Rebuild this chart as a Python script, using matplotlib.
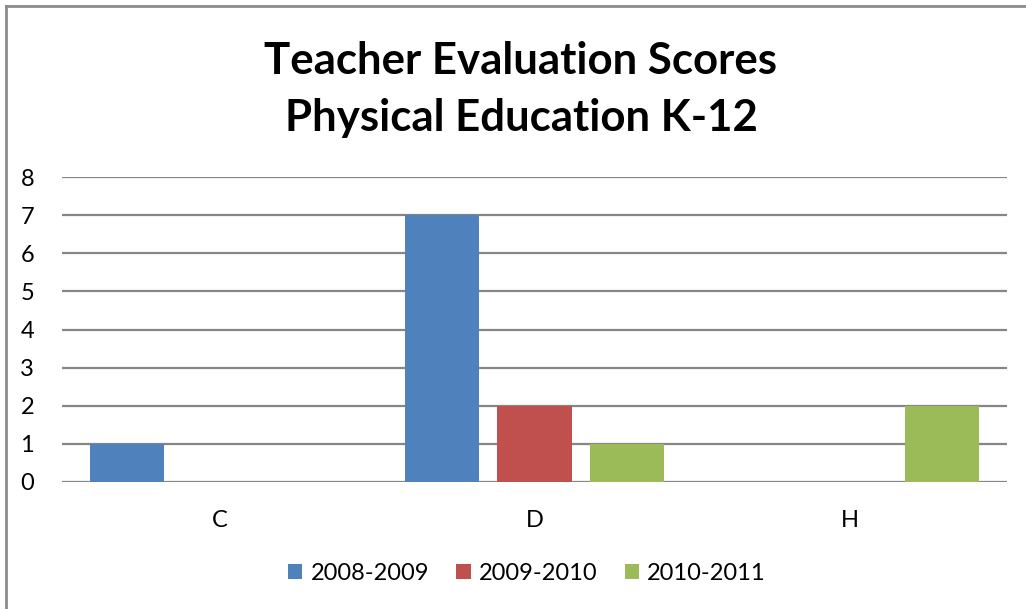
import matplotlib
matplotlib.use("Agg")
import matplotlib.pyplot as plt
import numpy as np
from matplotlib.lines import Line2D
from matplotlib.patches import Patch

categories = ["C", "D", "H"]
series_names = ["2008-2009", "2009-2010", "2010-2011"]
s2008 = [1, 7, 0]
s2009 = [0, 2, 0]
s2010 = [0, 1, 2]
colors = ["#4F81BD", "#C0504D", "#9BBB59"]
yticks = [0, 1, 2, 3, 4, 5, 6, 7, 8]

plt.rcParams['font.family'] = ['Lato', 'DejaVu Sans']

fig = plt.figure(figsize=(10.26, 6.09), dpi=100)
ax = fig.add_axes([62/1026, 1-482/609, (1007-62)/1026, (482-177)/609])

x = np.arange(len(categories))
bw = 0.235
step = 0.2937
for i, (vals, c) in enumerate(zip([s2008, s2009, s2010], colors)):
    ax.bar(x + (i - 1) * step, vals, width=bw, color=c, zorder=3, linewidth=0)

ax.set_xlim(-0.5, 2.5)
ax.set_ylim(0, 8)
ax.set_yticks(yticks)
ax.set_yticklabels([str(v) for v in yticks], fontsize=17)
ax.set_xticks(x)
ax.set_xticklabels(categories, fontsize=17)
ax.tick_params(axis='y', length=0, pad=20)
ax.tick_params(axis='x', length=0, pad=20)
ax.yaxis.grid(True, color="#868686", linewidth=1.6, zorder=0)
for s in ax.spines.values():
    s.set_visible(False)

fig.text(521/1026, 1-61/609, "Teacher Evaluation Scores", ha="center", va="center",
         fontsize=31.5, fontweight="bold")
fig.text(521/1026, 1-118/609, "Physical Education K-12", ha="center", va="center",
         fontsize=31.5, fontweight="bold")

handles = [Patch(facecolor=c, edgecolor='none') for c in colors]
fig.legend(handles, series_names, loc="center", bbox_to_anchor=(527/1026, 1-573/609),
           ncol=3, frameon=False, fontsize=17, handlelength=0.6, handleheight=0.6,
           handletextpad=0.35, columnspacing=1.15)

# chart-area border (top and left edges visible)
fig.add_artist(Line2D([6/1026, 1.0], [1-6/609, 1-6/609], color="#8c8c8c", linewidth=2))
fig.add_artist(Line2D([6/1026, 6/1026], [0, 1-6/609], color="#8c8c8c", linewidth=2))

fig.savefig("out.png", dpi=100)
